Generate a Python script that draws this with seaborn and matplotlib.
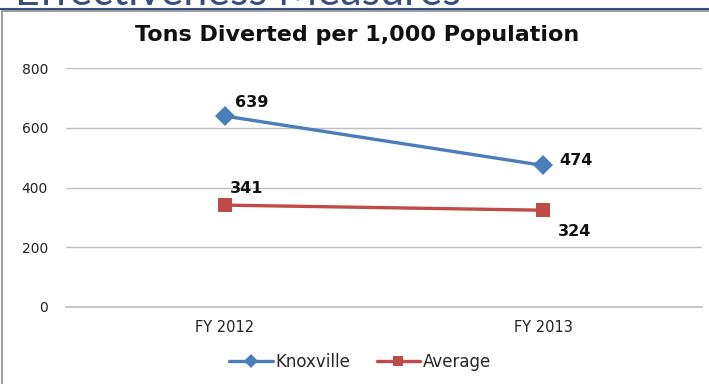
import matplotlib
matplotlib.use("Agg")
import matplotlib.pyplot as plt
import seaborn as sns
import pandas as pd
from matplotlib.lines import Line2D

# Data
years = ["FY 2012", "FY 2013"]
knoxville = [639, 474]
average = [341, 324]
series_names = ["Knoxville", "Average"]
y_ticks = [0, 200, 400, 600, 800]

BLUE = "#4A7EBB"
RED = "#BE4B48"

sns.set_theme(style="white")
plt.rcParams["font.family"] = ["DejaVu Sans"]

df = pd.DataFrame({
    "year": years * 2,
    "value": knoxville + average,
    "series": [series_names[0]] * 2 + [series_names[1]] * 2,
})

fig = plt.figure(figsize=(7.09, 3.84), dpi=100)
ax = fig.add_axes([66 / 709, 1 - 307 / 384, (702 - 66) / 709, (307 - 68) / 384])

sns.lineplot(data=df, x="year", y="value", hue="series", style="series",
             palette=[BLUE, RED], markers=["D", "s"], dashes=False,
             markersize=10, linewidth=2.4, markeredgewidth=0, ax=ax, legend=False)

ax.set_xlim(-0.5, 1.5)
ax.set_ylim(0, 800)
ax.set_yticks(y_ticks)
ax.set_yticklabels([str(t) for t in y_ticks])
ax.yaxis.grid(True, color="#BFBFBF", linewidth=1)
ax.xaxis.grid(False)
for s in ["top", "right", "left"]:
    ax.spines[s].set_visible(False)
ax.spines["bottom"].set_color("#BFBFBF")
ax.tick_params(axis="both", length=0, labelsize=10, colors="#222222")
ax.tick_params(axis="x", labelsize=10.5, pad=9)
ax.tick_params(axis="y", pad=13)
ax.set_xlabel("")
ax.set_ylabel("")

# data labels (offsets in points)
offsets = {0: [(7, 10), (12, 3.5)], 1: [(3.5, 12), (11, -15)]}
for si, vals in enumerate([knoxville, average]):
    for i, v in enumerate(vals):
        dx, dy = offsets[si][i]
        ax.annotate(str(v), (i, v), xytext=(dx, dy), textcoords="offset points",
                    fontsize=11.5, fontweight="bold", color="#111111",
                    ha="left", va="center")

fig.text(357 / 709, 1 - 35 / 384, "Tons Diverted per 1,000 Population",
         ha="center", va="center", fontsize=16, fontweight="bold", color="#111111")

# slide heading cut off at the top
fig.text(15 / 709, 1 - 5 / 384, "Effectiveness Measures", ha="left", va="baseline",
         fontsize=31, color="#3A4E7C", family=["Lato", "DejaVu Sans"])
fig.add_artist(Line2D([0, 1], [1 - 9 / 384] * 2, transform=fig.transFigure,
                      color="#3A4E7C", linewidth=1.5))

# chart frame
frame = plt.Rectangle((2 / 709, -0.1), 1.2, 1 - 11 / 384 + 0.1, transform=fig.transFigure,
                      fill=False, edgecolor="#8C8C8C", linewidth=1.2)
fig.patches.append(frame)

handles = [Line2D([], [], color=BLUE, marker="D", markersize=7, linewidth=2.4, markeredgewidth=0),
           Line2D([], [], color=RED, marker="s", markersize=7.5, linewidth=2.4, markeredgewidth=0)]
fig.legend(handles, series_names, loc="center", bbox_to_anchor=(360 / 709, 1 - 362 / 384),
           ncol=2, frameon=False, fontsize=12, handlelength=2.6, handletextpad=0.15,
           columnspacing=1.6)

fig.savefig("out.png", dpi=100)
